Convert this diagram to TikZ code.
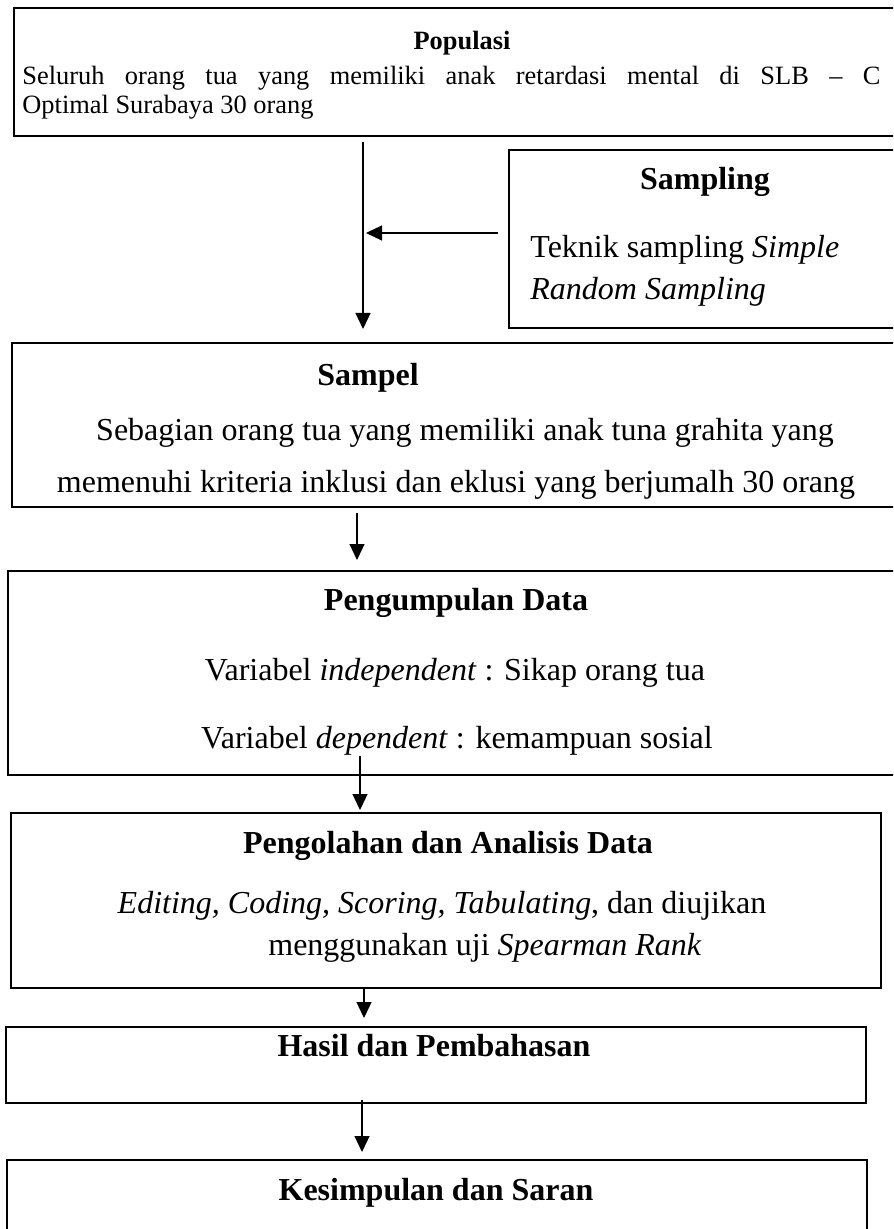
\documentclass[tikz,border=0pt]{standalone}
\usepackage{fontspec}
\setmainfont{Liberation Serif}
\usetikzlibrary{arrows.meta}
\begin{document}
\begin{tikzpicture}[x=0.5pt,y=-0.5pt,
  box/.style={draw, line width=1pt, anchor=north west, inner sep=0pt, outer sep=0pt},
  txt/.style={inner sep=0pt, anchor=base, font=\fontsize{16}{19}\selectfont},
  ttl/.style={inner sep=0pt, anchor=base, font=\fontsize{16}{19}\selectfont\bfseries},
  stxt/.style={inner sep=0pt, anchor=base, font=\fontsize{13.2}{16}\selectfont},
  sttl/.style={inner sep=0pt, anchor=base, font=\fontsize{13.2}{16}\selectfont\bfseries},
  arr/.style={-{Triangle[length=8pt,width=7.5pt]}, line width=0.6pt}]
\useasboundingbox (0,0) rectangle (893,1229);
\clip (0,0) rectangle (893,1229);
% boxes
\node[box, minimum width=445.5pt, minimum height=64pt] (pop) at (14,8) {};
\node[box, minimum width=198pt, minimum height=89pt] (smp) at (509,150) {};
\node[box, minimum width=446.5pt, minimum height=82pt] (sam) at (12,343) {};
\node[box, minimum width=448.5pt, minimum height=102pt] (pgd) at (8,571) {};
\node[box, minimum width=435pt, minimum height=87.5pt] (pad) at (11,813) {};
\node[box, minimum width=430pt, minimum height=38pt] (hsl) at (6,1027) {};
\node[box, minimum width=430pt, minimum height=50pt] (kes) at (7,1160) {};
% texts
\node[sttl] (popT) at (462,50) {Populasi};
\node[stxt, anchor=base west] (popA) at (22,85) {\makebox[429pt][s]{Seluruh orang tua yang memiliki anak retardasi mental di SLB -- C}};
\node[stxt, anchor=base west] (popB) at (22,114) {Optimal Surabaya 30 orang};
\node[ttl] (smpT) at (705,190) {Sampling};
\node[txt, anchor=base west] (smpA) at (530,258) {Teknik sampling \textit{Simple}};
\node[txt, anchor=base west] (smpB) at (530,300) {\textit{Random Sampling}};
\node[ttl] (samT) at (368,386) {Sampel};
\node[txt] (samA) at (465,440) {Sebagian orang tua yang memiliki anak tuna grahita yang};
\node[txt] (samB) at (456,492) {memenuhi kriteria inklusi dan eklusi yang berjumalh 30 orang};
\node[ttl] (pgdT) at (456,610) {Pengumpulan Data};
\node[txt] (pgdA) at (455,680) {Variabel \textit{independent} : Sikap orang tua};
\node[txt] (pgdB) at (457,748) {Variabel \textit{dependent} : kemampuan sosial};
\node[ttl] (padT) at (448,853) {Pengolahan dan Analisis Data};
\node[txt] (padA) at (442,913) {\textit{Editing, Coding, Scoring, Tabulating}, dan diujikan};
\node[txt] (padB) at (485,955) {menggunakan uji \textit{Spearman Rank}};
\node[ttl] (hslT) at (434,1056) {Hasil dan Pembahasan};
\node[ttl] (kesT) at (436,1200) {Kesimpulan dan Saran};
% arrow x positions
\coordinate (c1) at (363,0);
\coordinate (h) at (363,233);
\coordinate (c2) at (357,0);
\coordinate (c3) at (360,0);
\coordinate (c4) at (364,0);
\coordinate (c5) at (362,0);
% connectors
\draw[arr] ([yshift=-3pt]pop.south -| c1) -- ([yshift=7pt]sam.north -| c1);
\draw[arr] ([xshift=-5.5pt]smp.west |- h) -- ([xshift=1.5pt]h);
\draw[arr] ([yshift=-3pt]sam.south -| c2) -- ([yshift=5.5pt]pgd.north -| c2);
\draw[arr] ([yshift=9.5pt]pgd.south -| c3) -- ([yshift=1.5pt]pad.north -| c3);
\draw[arr] (pad.south -| c4) -- ([yshift=4.5pt]hsl.north -| c4);
\draw[arr] ([yshift=1.5pt]hsl.south -| c5) -- ([yshift=4pt]kes.north -| c5);
\end{tikzpicture}
\end{document}
